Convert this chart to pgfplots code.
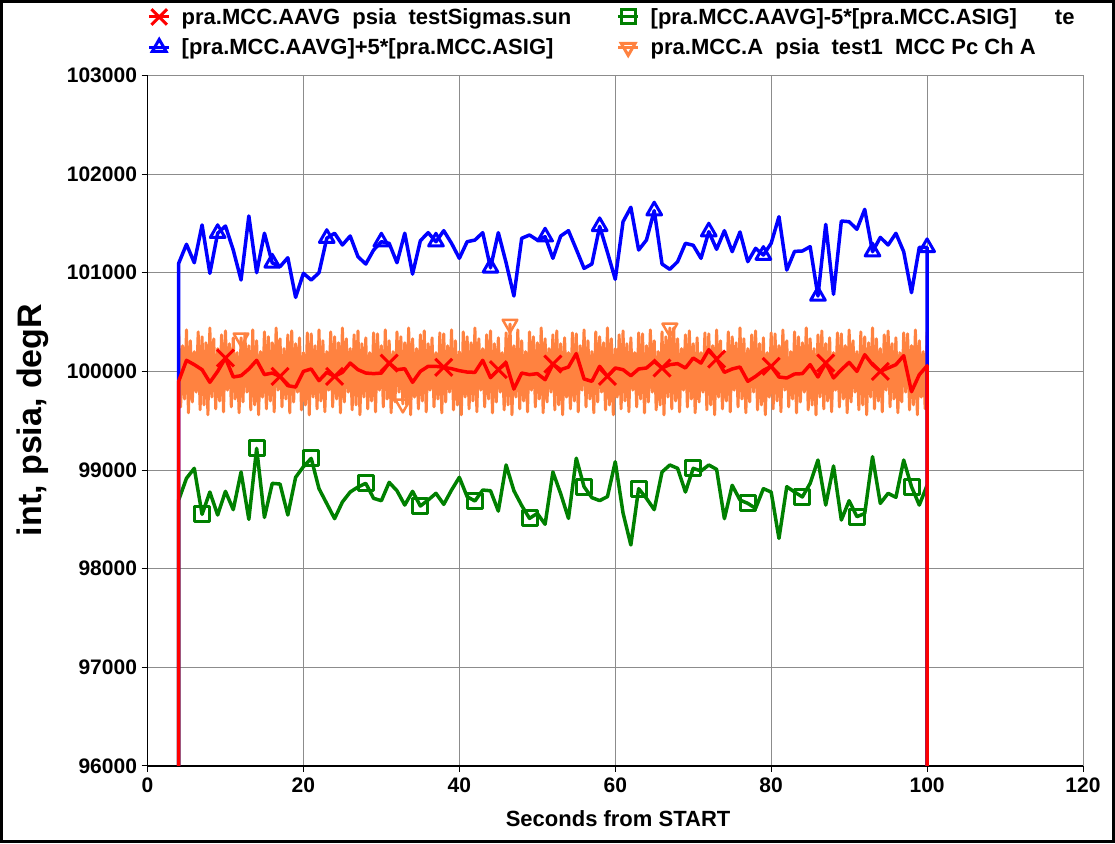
\documentclass[border=0pt]{standalone}
\usepackage{fontspec}
\setmainfont{Liberation Sans}
\usepackage{pgfplots}
\pgfplotsset{compat=1.18}
\definecolor{cred}{RGB}{255,0,0}
\definecolor{cblue}{RGB}{0,0,255}
\definecolor{cgreen}{RGB}{0,128,0}
\definecolor{corange}{RGB}{255,130,64}
\definecolor{cgrid}{RGB}{140,140,140}
\begin{document}
\begin{tikzpicture}
\draw[line width=3pt] (1.5pt,1.5pt) rectangle (1113.5pt,841.5pt);
\begin{axis}[
  at={(147.5pt,77pt)}, anchor=south west,
  scale only axis, width=935.5pt, height=690.6pt,
  xmin=0, xmax=120, ymin=96000, ymax=103000,
  xtick={0,20,...,120}, ytick={96000,97000,...,103000},
  scaled y ticks=false, scaled x ticks=false,
  axis x line*=bottom, axis y line*=left,
  axis line style={black, line width=1.5pt, -},
  tick align=outside, major tick length=6pt,
  tick style={black, line width=1pt},
  grid=major, major grid style={cgrid, line width=0.8pt},
  /pgf/number format/.cd, fixed, precision=0, 1000 sep={}, assume math mode=true, /pgfplots/.cd,
  yticklabel style={font=\fontsize{21}{21}\selectfont\bfseries, xshift=-1pt},
  xticklabel style={font=\fontsize{21}{21}\selectfont\bfseries, yshift=-2pt},
  xlabel={Seconds from START},
  xlabel style={font=\fontsize{22}{22}\selectfont\bfseries, at={(axis description cs:0.503,-0.0767)}, anchor=center},
  ylabel={int, psia, degR},
  ylabel style={font=\fontsize{34}{34}\selectfont\bfseries, at={(axis description cs:-0.1224,0.501)}, anchor=center},
  legend columns=2,
  legend cell align=left,
  legend image code/.code={\draw[mark repeat=2,mark phase=2,#1] plot coordinates {(0pt,0pt)(10pt,0pt)(20pt,0pt)};},
  legend style={font=\fontsize{22}{22}\selectfont\bfseries, draw=none, fill=none,
    at={(axis description cs:0.0,1.0975)}, anchor=north west, inner sep=0pt,
    nodes={inner sep=0pt}, row sep=13pt,
    /tikz/every odd column/.style={column sep=11pt}},
]
\addlegendimage{cred, line width=3pt, mark=x, mark size=11pt}
\addlegendentry{\makebox[435pt][l]{pra.MCC.AAVG\ \ psia\ \ testSigmas.sun}}
\addlegendimage{cgreen, line width=3pt, mark=square, mark size=7pt}
\addlegendentry{[pra.MCC.AAVG]-5*[pra.MCC.ASIG]\hspace{38pt}te}
\addlegendimage{cblue, line width=3pt, mark=triangle, mark size=8pt}
\addlegendentry{\makebox[435pt][l]{[pra.MCC.AAVG]+5*[pra.MCC.ASIG]}}
\addlegendimage{corange, line width=3pt, mark=triangle, mark size=8pt, mark options={rotate=180}}
\addlegendentry{pra.MCC.A\ \ psia\ \ test1\ \ MCC Pc Ch A}

% orange (dense)
\addplot[corange, line width=3pt, line join=round, mark=triangle, mark size=8.5pt, mark options={rotate=180, line width=2.5pt}, mark indices={33,116,171,253}, forget plot] coordinates {
(4,100380)(4.25,99640)(4.5,100260)(4.75,99720)
(5,100420)(5.25,99580)(5.5,100310)(5.75,99690)
(6,100200)(6.25,99790)(6.5,100400)(6.75,99610)
(7,100350)(7.25,99660)(7.5,100290)(7.75,99560)
(8,100440)(8.25,99740)(8.5,100330)(8.75,99620)
(9,100230)(9.25,99700)(9.5,100370)(9.75,99590)
(10,100410)(10.25,99810)(10.5,100280)(10.75,99640)
(11,100340)(11.25,99720)(11.5,100190)(11.75,99580)
(12,100340)(12.25,99690)(12.5,100380)(12.75,99790)
(13,100260)(13.25,99610)(13.5,100420)(13.75,99660)
(14,100310)(14.25,99560)(14.5,100200)(14.75,99740)
(15,100400)(15.25,99620)(15.5,100350)(15.75,99700)
(16,100290)(16.25,99590)(16.5,100440)(16.75,99810)
(17,100330)(17.25,99640)(17.5,100230)(17.75,99720)
(18,100370)(18.25,99580)(18.5,100410)(18.75,99690)
(19,100280)(19.25,99790)(19.5,100340)(19.75,99610)
(20,100190)(20.25,99660)(20.5,100390)(20.75,99560)
(21,100380)(21.25,99740)(21.5,100260)(21.75,99620)
(22,100420)(22.25,99700)(22.5,100310)(22.75,99590)
(23,100200)(23.25,99810)(23.5,100400)(23.75,99640)
(24,100350)(24.25,99720)(24.5,100290)(24.75,99580)
(25,100440)(25.25,99690)(25.5,100330)(25.75,99790)
(26,100230)(26.25,99610)(26.5,100370)(26.75,99660)
(27,100410)(27.25,99560)(27.5,100280)(27.75,99740)
(28,100340)(28.25,99620)(28.5,100190)(28.75,99700)
(29,100390)(29.25,99590)(29.5,100380)(29.75,99810)
(30,100260)(30.25,99640)(30.5,100420)(30.75,99720)
(31,100310)(31.25,99580)(31.5,100200)(31.75,99690)
(32,100400)(32.25,99790)(32.5,100350)(32.75,99670)
(33,100290)(33.25,99660)(33.5,100440)(33.75,99560)
(34,100330)(34.25,99740)(34.5,100230)(34.75,99620)
(35,100370)(35.25,99700)(35.5,100410)(35.75,99590)
(36,100280)(36.25,99810)(36.5,100340)(36.75,99640)
(37,100190)(37.25,99720)(37.5,100390)(37.75,99580)
(38,100380)(38.25,99690)(38.5,100260)(38.75,99790)
(39,100420)(39.25,99610)(39.5,100310)(39.75,99660)
(40,100200)(40.25,99560)(40.5,100400)(40.75,99740)
(41,100350)(41.25,99620)(41.5,100290)(41.75,99700)
(42,100440)(42.25,99590)(42.5,100330)(42.75,99810)
(43,100230)(43.25,99640)(43.5,100370)(43.75,99720)
(44,100410)(44.25,99580)(44.5,100280)(44.75,99690)
(45,100340)(45.25,99790)(45.5,100190)(45.75,99610)
(46,100390)(46.25,99660)(46.5,100480)(46.75,99560)
(47,100260)(47.25,99740)(47.5,100420)(47.75,99620)
(48,100310)(48.25,99700)(48.5,100200)(48.75,99590)
(49,100400)(49.25,99810)(49.5,100350)(49.75,99640)
(50,100290)(50.25,99720)(50.5,100440)(50.75,99580)
(51,100330)(51.25,99690)(51.5,100230)(51.75,99790)
(52,100370)(52.25,99610)(52.5,100410)(52.75,99660)
(53,100280)(53.25,99560)(53.5,100340)(53.75,99740)
(54,100190)(54.25,99620)(54.5,100390)(54.75,99700)
(55,100380)(55.25,99590)(55.5,100260)(55.75,99810)
(56,100420)(56.25,99640)(56.5,100310)(56.75,99720)
(57,100200)(57.25,99580)(57.5,100400)(57.75,99690)
(58,100350)(58.25,99790)(58.5,100290)(58.75,99610)
(59,100440)(59.25,99660)(59.5,100330)(59.75,99560)
(60,100230)(60.25,99740)(60.5,100370)(60.75,99620)
(61,100410)(61.25,99700)(61.5,100280)(61.75,99590)
(62,100340)(62.25,99810)(62.5,100190)(62.75,99640)
(63,100390)(63.25,99720)(63.5,100380)(63.75,99580)
(64,100260)(64.25,99690)(64.5,100420)(64.75,99790)
(65,100310)(65.25,99610)(65.5,100200)(65.75,99660)
(66,100400)(66.25,99560)(66.5,100350)(66.75,99740)
(67,100440)(67.25,99620)(67.5,100440)(67.75,99700)
(68,100330)(68.25,99590)(68.5,100230)(68.75,99810)
(69,100370)(69.25,99640)(69.5,100410)(69.75,99720)
(70,100280)(70.25,99580)(70.5,100340)(70.75,99690)
(71,100190)(71.25,99790)(71.5,100390)(71.75,99610)
(72,100380)(72.25,99660)(72.5,100260)(72.75,99560)
(73,100420)(73.25,99740)(73.5,100310)(73.75,99620)
(74,100200)(74.25,99700)(74.5,100400)(74.75,99590)
(75,100350)(75.25,99810)(75.5,100290)(75.75,99640)
(76,100440)(76.25,99720)(76.5,100330)(76.75,99580)
(77,100230)(77.25,99690)(77.5,100370)(77.75,99790)
(78,100410)(78.25,99610)(78.5,100280)(78.75,99660)
(79,100340)(79.25,99560)(79.5,100190)(79.75,99740)
(80,100390)(80.25,99620)(80.5,100380)(80.75,99700)
(81,100260)(81.25,99590)(81.5,100420)(81.75,99810)
(82,100310)(82.25,99640)(82.5,100200)(82.75,99720)
(83,100400)(83.25,99580)(83.5,100350)(83.75,99690)
(84,100290)(84.25,99790)(84.5,100440)(84.75,99610)
(85,100330)(85.25,99660)(85.5,100230)(85.75,99560)
(86,100370)(86.25,99740)(86.5,100410)(86.75,99620)
(87,100280)(87.25,99700)(87.5,100340)(87.75,99590)
(88,100190)(88.25,99810)(88.5,100390)(88.75,99640)
(89,100380)(89.25,99720)(89.5,100260)(89.75,99580)
(90,100420)(90.25,99690)(90.5,100310)(90.75,99790)
(91,100200)(91.25,99610)(91.5,100400)(91.75,99660)
(92,100350)(92.25,99560)(92.5,100290)(92.75,99740)
(93,100440)(93.25,99620)(93.5,100330)(93.75,99700)
(94,100230)(94.25,99590)(94.5,100370)(94.75,99810)
(95,100410)(95.25,99640)(95.5,100280)(95.75,99720)
(96,100340)(96.25,99580)(96.5,100190)(96.75,99690)
(97,100390)(97.25,99790)(97.5,100380)(97.75,99610)
(98,100260)(98.25,99660)(98.5,100420)(98.75,99560)
(99,100310)(99.25,99740)(99.5,100200)(99.75,99620)
(100,100400)
};

% green
\addplot[cgreen, line width=3.5pt, line join=round, mark=square, mark size=7.5pt, mark repeat=7, mark phase=4, mark options={solid, line width=3pt}, forget plot] table {
x y
4 90000
4 98696
5 98916
6 99017
7 98551
8 98777
9 98544
10 98784
11 98598
12 98980
13 98500
14 99220
15 98520
16 98865
17 98858
18 98544
19 98926
20 99034
21 99118
22 98811
23 98659
24 98507
25 98676
26 98777
27 98828
28 98865
29 98713
30 98689
31 98875
32 98790
33 98645
34 98784
35 98635
36 98696
37 98764
38 98652
39 98797
40 98926
41 98730
42 98686
43 98797
44 98790
45 98584
46 99051
47 98790
48 98640
49 98510
50 98560
51 98450
52 98980
53 98760
54 98510
55 99120
56 98830
57 98720
58 98690
59 98730
60 99084
61 98564
62 98240
63 98811
64 98713
65 98598
66 98980
67 99051
68 99017
69 98777
70 99017
71 98990
72 99051
73 99007
74 98507
75 98845
76 98696
77 98662
78 98611
79 98811
80 98777
81 98307
82 98831
83 98777
84 98727
85 98865
86 99101
87 98645
88 99041
89 98493
90 98689
91 98527
92 98560
93 99135
94 98662
95 98764
96 98723
97 99101
98 98831
99 98645
100 98845
100 90000
};

% blue
\addplot[cblue, line width=3.5pt, line join=round, mark=triangle, mark size=8.5pt, mark repeat=7, mark phase=6, mark options={solid, line width=3pt}, forget plot] table {
x y
4 90000
4 101095
5 101288
6 101101
7 101484
8 100994
9 101400
10 101473
11 101230
12 100926
13 101575
14 101000
15 101400
16 101100
17 101061
18 101152
19 100750
20 100994
21 100926
22 101000
23 101350
24 101400
25 101281
26 101372
27 101162
28 101088
29 101230
30 101314
31 101298
32 101101
33 101400
34 100986
35 101324
36 101406
37 101314
38 101426
39 101298
40 101146
41 101314
42 101331
43 101406
44 101050
45 101406
46 101100
47 100764
48 101349
49 101382
50 101331
51 101365
52 101146
53 101372
54 101426
55 101237
56 101044
57 101088
58 101470
59 101206
60 100933
61 101517
62 101663
63 101230
64 101331
65 101629
66 101088
67 101034
68 101112
69 101298
70 101278
71 101146
72 101416
73 101237
74 101426
75 101213
76 101413
77 101112
78 101247
79 101179
80 101298
81 101568
82 101027
83 101216
84 101220
85 101264
86 100764
87 101490
88 100781
89 101524
90 101517
91 101440
92 101642
93 101213
94 101358
95 101281
96 101399
97 101213
98 100798
99 101257
100 101257
100 90000
};

% red
\addplot[cred, line width=3.5pt, line join=round, mark=x, mark size=12pt, mark repeat=7, mark phase=7, mark options={solid, line width=3pt}, forget plot] table {
x y
4 90000
4 99899
5 100112
6 100068
7 100017
8 99889
9 100000
10 100135
11 99943
12 99956
13 100024
14 100112
15 99967
16 99983
17 99949
18 99855
19 99841
20 100000
21 100024
22 99906
23 99990
24 99949
25 99990
26 100084
27 100017
28 99983
29 99977
30 99983
31 100084
32 100017
33 100027
34 99889
35 100000
36 100051
37 100051
38 100041
39 100027
40 100007
41 99993
42 99990
43 100112
44 99936
45 100017
46 100084
47 99821
48 99983
49 99967
50 99977
51 99916
52 100074
53 100017
54 100044
55 100180
56 99923
57 99899
58 100051
59 99949
60 100034
61 100017
62 99956
63 100024
64 100034
65 100101
66 100034
67 100068
68 100078
69 100034
70 100135
71 100084
72 100220
73 100125
74 99990
75 100024
76 100044
77 99899
78 99949
79 100010
80 100051
81 99943
82 99933
83 99973
84 99977
85 100068
86 99943
87 100084
88 99933
89 100017
90 100091
91 100000
92 100169
93 100068
94 100000
95 100034
96 100068
97 100159
98 99794
99 99966
100 100057
100 90000
};
\end{axis}
\pgfresetboundingbox
\useasboundingbox (0,0) rectangle (1115pt,843pt);
\end{tikzpicture}
\end{document}
